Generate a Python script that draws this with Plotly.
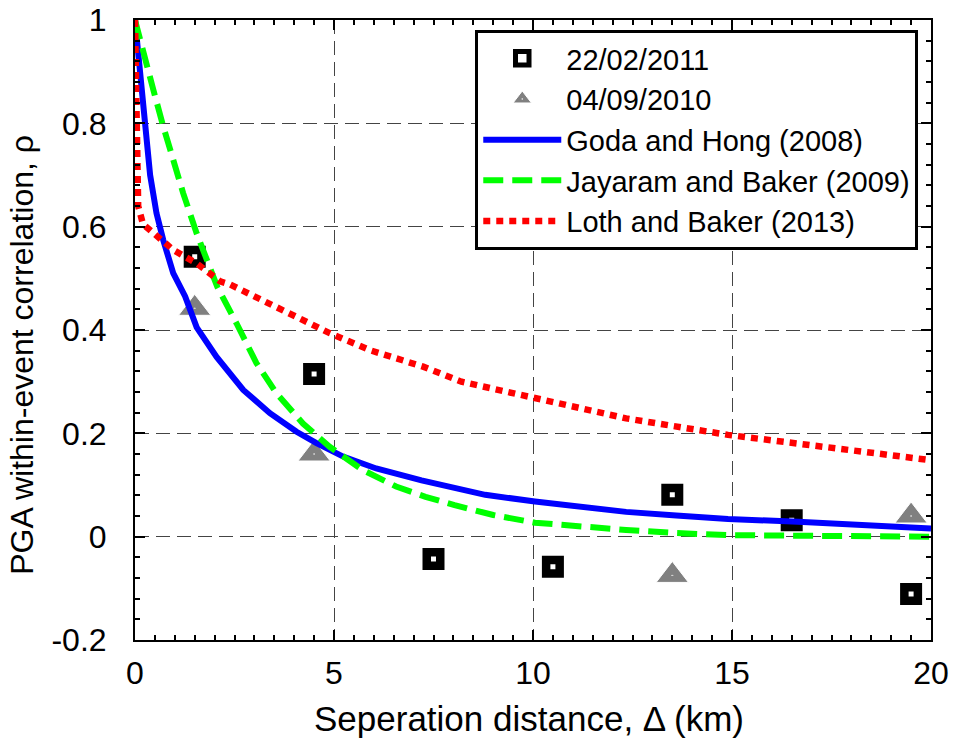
import plotly.graph_objects as go

# ---- data ----
sq_x = [1.5, 4.5, 7.5, 10.5, 13.5, 16.5, 19.5]
sq_y = [0.542, 0.315, -0.043, -0.058, 0.081, 0.032, -0.111]

tri_x = [1.5, 4.5, 13.5, 19.5]
tri_y = [0.442, 0.160, -0.075, 0.040]

goda_x = [0.0, 0.08, 0.17, 0.25, 0.38, 0.54, 0.71, 0.96, 1.26, 1.55, 2.05, 2.72, 3.39, 4.06,
          4.56, 5.23, 6.06, 7.2, 8.0, 8.8, 10.05, 11.2, 12.34, 13.6, 14.9, 16.66, 18.4, 20.0]
goda_y = [1.0, 0.93, 0.87, 0.79, 0.70, 0.626, 0.574, 0.51, 0.465, 0.405, 0.348, 0.284, 0.239, 0.203,
          0.181, 0.155, 0.132, 0.109, 0.095, 0.081, 0.068, 0.057, 0.048, 0.041, 0.034, 0.029, 0.021, 0.016]

jb_x = [0.0, 0.21, 0.46, 0.71, 0.96, 1.21, 1.55, 2.07, 2.55, 3.05, 3.55, 4.22, 4.89,
        5.72, 6.56, 7.3, 8.03, 9.0, 10.05, 11.2, 12.34, 13.6, 14.9, 16.4, 17.9, 20.0]
jb_y = [1.0, 0.935, 0.865, 0.794, 0.729, 0.665, 0.587, 0.483, 0.413, 0.336, 0.278, 0.219, 0.174,
        0.129, 0.097, 0.077, 0.061, 0.042, 0.027, 0.019, 0.013, 0.007, 0.003, 0.002, 0.0, 0.0]

lb_x = [0.0, 0.03, 0.08, 0.2, 0.5, 0.96, 1.55, 2.14, 2.39, 3.23, 4.06, 4.89, 5.9, 7.24,
        8.2, 10.05, 12.34, 14.9, 17.5, 20.0]
lb_y = [1.0, 0.8, 0.64, 0.605, 0.585, 0.555, 0.529, 0.494, 0.488, 0.456, 0.423, 0.394, 0.361, 0.329,
        0.30, 0.268, 0.229, 0.197, 0.171, 0.148]

x_ticks = [0, 5, 10, 15, 20]
y_ticks = [-0.2, 0, 0.2, 0.4, 0.6, 0.8, 1]
y_tick_text = ["-0.2", "0", "0.2", "0.4", "0.6", "0.8", "1"]

FONT = "Liberation Sans, Arial, sans-serif"

fig = go.Figure()

fig.add_trace(go.Scatter(
    x=sq_x, y=sq_y, mode="markers", name="22/02/2011",
    marker=dict(symbol="square-open", size=13.5, color="black",
                line=dict(color="black", width=8.5))))

fig.add_trace(go.Scatter(
    x=tri_x, y=tri_y, mode="markers", name="04/09/2010",
    marker=dict(symbol="triangle-up-dot", size=28, color="#808080",
                line=dict(color="white", width=1))))

fig.add_trace(go.Scatter(
    x=goda_x, y=goda_y, mode="lines", name="Goda and Hong (2008)",
    line=dict(color="#0000ff", width=6)))

fig.add_trace(go.Scatter(
    x=jb_x, y=jb_y, mode="lines", name="Jayaram and Baker (2009)",
    line=dict(color="#00ff00", width=6, dash="20px,9px")))

fig.add_trace(go.Scatter(
    x=lb_x, y=lb_y, mode="lines", name="Loth and Baker (2013)",
    line=dict(color="#ff0000", width=6.5, dash="7px,6px")))

axis_common = dict(
    showline=True, linecolor="black", linewidth=2, mirror="allticks",
    ticks="inside", ticklen=10, tickwidth=1.5, tickcolor="black",
    showgrid=True, gridcolor="#444444", gridwidth=1, griddash="14px,7px",
    zeroline=False, automargin=False,
    tickfont=dict(family=FONT, size=32, color="black"),
)

fig.update_xaxes(range=[0, 20], tickvals=x_ticks, ticklabelstandoff=4,
                 minor=dict(dtick=0.5, ticks="inside", ticklen=5, tickcolor="black", showgrid=False),
                 **axis_common)
fig.update_yaxes(range=[-0.2, 1], tickvals=y_ticks, ticktext=y_tick_text, ticklabelstandoff=20,
                 minor=dict(dtick=0.04, ticks="inside", ticklen=5, tickcolor="black", showgrid=False),
                 **axis_common)

fig.add_annotation(text="Seperation distance, \u0394 (km)", xref="paper", yref="paper",
                   x=0.495, y=-0.126, xanchor="center", yanchor="middle", showarrow=False,
                   font=dict(family=FONT, size=35, color="black"))
fig.add_annotation(text="PGA within-event correlation, \u03c1", xref="paper", yref="paper",
                   x=-0.142, y=0.46, xanchor="center", yanchor="middle", textangle=-90,
                   showarrow=False, font=dict(family=FONT, size=32, color="black"))

fig.update_layout(
    width=953, height=739,
    margin=dict(l=135, r=22, t=20, b=99, autoexpand=False),
    paper_bgcolor="white", plot_bgcolor="white",
    showlegend=True,
    legend=dict(x=0.984, y=0.984, xanchor="right", yanchor="top",
                bgcolor="white", bordercolor="black", borderwidth=3,
                font=dict(family=FONT, size=29, color="black"),
                itemwidth=78, tracegroupgap=0),
)

fig.write_html("out.html")
